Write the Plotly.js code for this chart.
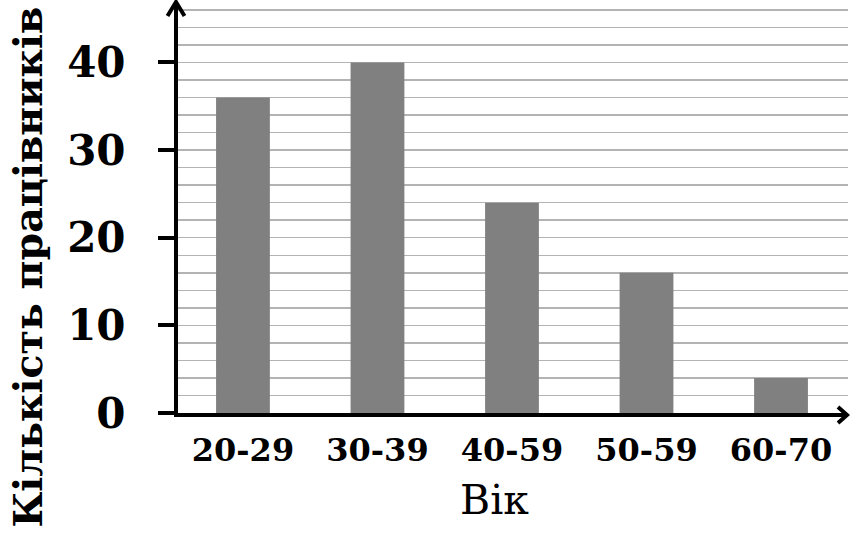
<!DOCTYPE html>
<html>
<head>
<meta charset="utf-8">
<script src="https://cdn.plot.ly/plotly-3.0.1.min.js"></script>
<style>html,body{margin:0;padding:0;background:#fff;}#chart{width:853px;height:535px;}</style>
</head>
<body>
<div id="chart"></div>
<script>
const categories = ['20-29', '30-39', '40-59', '50-59', '60-70'];
const counts = [36, 40, 24, 16, 4];
const yTickValues = [0, 10, 20, 30, 40];
const yTickLabels = ['0', '10', '20', '30', '40'];
const xTitle = 'Вік';
const yTitle = 'Кількість працівників';

const serif = 'DejaVu Serif';
const trace = {
  type: 'bar',
  x: categories,
  y: counts,
  marker: {color: '#808080', line: {width: 0}},
  hoverinfo: 'none'
};

const layout = {
  width: 853, height: 535,
  margin: {l: 178, r: 5, t: 2, b: 122, pad: 0},
  paper_bgcolor: '#ffffff', plot_bgcolor: '#ffffff',
  showlegend: false,
  bargap: 0.6,
  font: {family: serif, color: '#000'},
  xaxis: {
    type: 'category',
    range: [-0.483, 4.498],
    showline: true, linecolor: '#000', linewidth: 4,
    ticks: '', showgrid: false, zeroline: false,
    tickfont: {family: serif, size: 32, weight: 'bold', color: '#000'},
    ticklabelstandoff: 6
  },
  yaxis: {
    range: [0, 46.9],
    tickmode: 'array', tickvals: yTickValues, ticktext: yTickLabels,
    showline: true, linecolor: '#000', linewidth: 4,
    ticks: 'outside', ticklen: 16, tickwidth: 4, tickcolor: '#000',
    showgrid: true, gridcolor: '#b3b3b3', gridwidth: 1.5,
    zeroline: false,
    minor: {dtick: 2, tick0: 0, showgrid: true, gridcolor: '#b3b3b3', gridwidth: 1.5, ticks: ''},
    tickfont: {family: serif, size: 42, weight: 'bold', color: '#000'},
    ticklabelstandoff: 24
  },
  shapes: [
    {type: 'path', xref: 'paper', yref: 'paper', xsizemode: 'pixel', ysizemode: 'pixel',
     xanchor: 0, yanchor: 1, path: 'M -10.5 -14 L -2 0 L 6.5 -14',
     line: {color: '#000', width: 4}},
    {type: 'path', xref: 'paper', yref: 'paper', xsizemode: 'pixel', ysizemode: 'pixel',
     xanchor: 1, yanchor: 0, path: 'M -10 6 L -1 -2 L -10 -10',
     line: {color: '#000', width: 4}}
  ],
  annotations: [
    {text: xTitle, xref: 'paper', yref: 'paper', x: 0.472, y: -0.149, xanchor: 'center', yanchor: 'top',
     showarrow: false, font: {family: serif, size: 41, color: '#000'}},
    {text: yTitle, xref: 'paper', yref: 'paper', x: -0.224, y: 0.356, xanchor: 'center', yanchor: 'middle',
     textangle: -90, showarrow: false, font: {family: serif, size: 39.5, weight: 'bold', color: '#000'}}
  ]
};

Plotly.newPlot('chart', [trace], layout, {staticPlot: true, displayModeBar: false});
</script>
</body>
</html>
